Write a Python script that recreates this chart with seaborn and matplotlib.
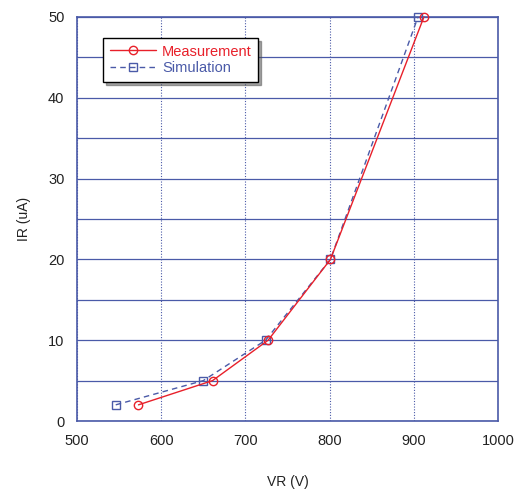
import matplotlib
matplotlib.use("Agg")
import matplotlib.pyplot as plt
import seaborn as sns
import pandas as pd
from matplotlib.ticker import MultipleLocator

meas_vr = [573, 661, 727, 801, 912]
meas_ir = [2, 5, 10, 20, 50]
sim_vr = [546, 650, 724, 801, 905]
sim_ir = [2, 5, 10, 20, 50]

sns.set_style("white")
plt.rcParams['font.family'] = ['Liberation Sans', 'DejaVu Sans']

grid_c = "#4a5aa8"
red = "#e8202a"
blue = "#4a5aa8"

fig = plt.figure(figsize=(5.26, 4.90), dpi=100)
ax = fig.add_axes([77/526, 1-421/490, 421/526, 404/490])

df_m = pd.DataFrame({"VR": meas_vr, "IR": meas_ir})
df_s = pd.DataFrame({"VR": sim_vr, "IR": sim_ir})

sns.lineplot(data=df_m, x="VR", y="IR", ax=ax, color=red, lw=1, marker="o",
             markersize=6, markerfacecolor="none", markeredgecolor=red,
             markeredgewidth=1, label="Measurement", sort=False, zorder=4)
sns.lineplot(data=df_s, x="VR", y="IR", ax=ax, color=blue, lw=1, marker="s",
             markersize=6, markerfacecolor="none", markeredgecolor=blue,
             markeredgewidth=1, label="Simulation", sort=False, zorder=3)
ax.lines[-1].set_dashes([4, 3])
for ln in ax.lines:
    ln.set_clip_on(False)

ax.set_xlim(500, 1000)
ax.set_ylim(0, 50)
ax.xaxis.set_major_locator(MultipleLocator(100))
ax.yaxis.set_major_locator(MultipleLocator(10))
ax.yaxis.set_minor_locator(MultipleLocator(5))
ax.grid(True, axis="x", which="major", color=grid_c, ls=(0, (1, 1.5)), lw=0.8)
ax.grid(True, axis="y", which="both", color=grid_c, ls="-", lw=0.9)
ax.set_axisbelow(True)
for s in ax.spines.values():
    s.set_color(grid_c)
    s.set_linewidth(1.2)
ax.tick_params(axis="both", which="both", direction="in", colors=grid_c,
               labelcolor="#222222", labelsize=10.5, length=4, pad=9)
ax.tick_params(axis="y", which="minor", length=0)
ax.set_xlabel("VR (V)", fontsize=10, color="#222222", labelpad=20)
ax.set_ylabel("IR (uA)", fontsize=10, color="#222222", labelpad=12)

leg = ax.legend(loc="upper left", bbox_to_anchor=(0.062, 0.948), frameon=True,
                fancybox=False, shadow=True, fontsize=10.5, handlelength=3.2,
                borderpad=0.45, labelspacing=0.2, handletextpad=0.4,
                borderaxespad=0)
leg.get_frame().set_edgecolor("black")
leg.get_frame().set_linewidth(1)
for txt, c in zip(leg.get_texts(), [red, blue]):
    txt.set_color(c)

fig.savefig("out.png", dpi=100)
